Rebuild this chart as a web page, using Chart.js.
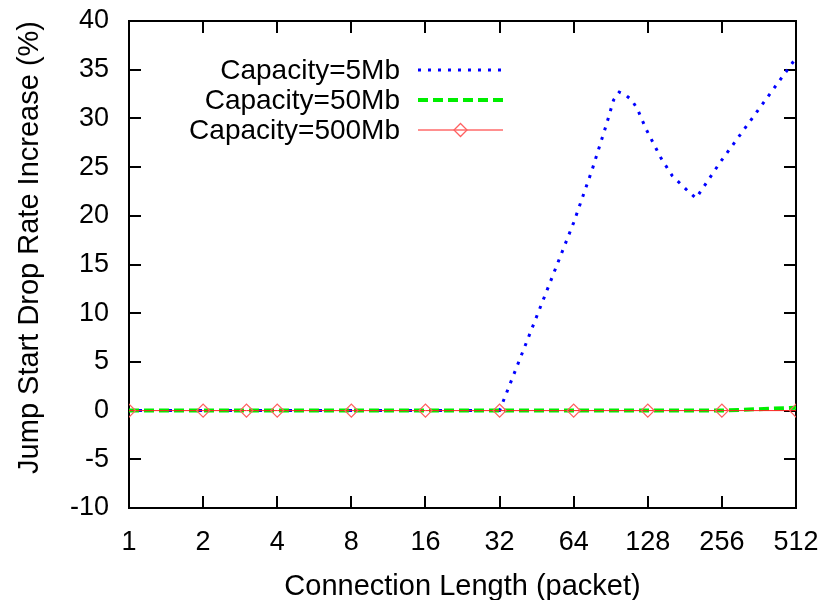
<!DOCTYPE html>
<html>
<head>
<meta charset="utf-8">
<script src="https://cdn.jsdelivr.net/npm/chart.js@4.4.0/dist/chart.umd.min.js"></script>
<style>
  html, body { margin: 0; padding: 0; background: #fff; }
  #wrap { width: 830px; height: 600px; position: relative; }
</style>
</head>
<body>
<div id="wrap"><canvas id="chart"></canvas></div>
<script>
// --- data ---
const xTicks = [1, 2, 4, 8, 16, 32, 64, 128, 256, 512];
const yTicks = [-10, -5, 0, 5, 10, 15, 20, 25, 30, 35, 40];

const lengths = [1, 2, 3, 4, 8, 16, 32, 64, 128, 256, 512];
const cap500 = [0, 0, 0, 0, 0, 0, 0, 0, 0, 0, 0];
const cap50 = [0, 0, 0, 0, 0, 0, 0, 0, 0, 0, 0.3];

const cap5Lengths = [1, 2, 3, 4, 8, 16, 32, 64, 76, 87, 93, 98, 104, 110, 116, 126, 145, 161, 187, 201, 252, 512];
const cap5 = [0, 0, 0, 0, 0, 0, 0, 19.3, 24.7, 29.4, 31.9, 32.7, 32.4, 31.9, 31.0, 28.9, 25.9, 24.1, 22.5, 21.8, 25.5, 36.2];

const seriesNames = ['Capacity=5Mb', 'Capacity=50Mb', 'Capacity=500Mb'];

const FONT = 'Liberation Sans, Arial, Helvetica, sans-serif';

const toPoints = (xs, ys) => xs.map((x, i) => ({ x, y: ys[i] }));

// gnuplot style frame with inward ticks on all four sides
const framePlugin = {
  id: 'frame',
  beforeDatasetsDraw(chart) {
    const { ctx, chartArea: a, scales } = chart;
    const len = 12;
    ctx.save();
    ctx.strokeStyle = '#000';
    ctx.lineWidth = 2;
    ctx.beginPath();
    for (const v of xTicks) {
      const px = Math.round(scales.x.getPixelForValue(v));
      ctx.moveTo(px, a.bottom); ctx.lineTo(px, a.bottom - len);
      ctx.moveTo(px, a.top); ctx.lineTo(px, a.top + len);
    }
    for (const v of yTicks) {
      const py = Math.round(scales.y.getPixelForValue(v));
      ctx.moveTo(a.left, py); ctx.lineTo(a.left + len, py);
      ctx.moveTo(a.right, py); ctx.lineTo(a.right - len, py);
    }
    ctx.stroke();
    ctx.strokeRect(a.left, a.top, a.right - a.left, a.bottom - a.top);
    ctx.restore();
  }
};

// legend inside the plot: text right aligned, sample line to the right
const legendPlugin = {
  id: 'insideLegend',
  afterDatasetsDraw(chart) {
    const { ctx } = chart;
    const textRight = 400, lineL = 418, lineR = 503, y0 = 70, step = 30;
    ctx.save();
    ctx.font = '28px ' + FONT;
    ctx.textAlign = 'right';
    ctx.textBaseline = 'middle';
    chart.data.datasets.forEach((ds, i) => {
      const y = y0 + i * step;
      ctx.fillStyle = '#000';
      ctx.fillText(ds.label, textRight, y + 1);
      ctx.strokeStyle = ds.borderColor;
      ctx.lineWidth = ds.borderWidth;
      ctx.setLineDash(ds.borderDash || []);
      ctx.beginPath();
      ctx.moveTo(lineL, y); ctx.lineTo(lineR, y);
      ctx.stroke();
      ctx.setLineDash([]);
      if (ds.pointRadius > 0) {
        const cx = (lineL + lineR) / 2, r = ds.pointRadius;
        ctx.strokeStyle = ds.pointBorderColor;
        ctx.lineWidth = ds.pointBorderWidth;
        ctx.beginPath();
        ctx.moveTo(cx, y - r); ctx.lineTo(cx + r, y); ctx.lineTo(cx, y + r); ctx.lineTo(cx - r, y);
        ctx.closePath();
        ctx.stroke();
      }
    });
    ctx.restore();
  }
};

new Chart(document.getElementById('chart'), {
  type: 'line',
  data: {
    datasets: [
      {
        label: seriesNames[0],
        data: toPoints(cap5Lengths, cap5),
        borderColor: '#0000ff',
        borderWidth: 3,
        borderDash: [3, 7],
        pointRadius: 0,
        tension: 0,
        order: 3
      },
      {
        label: seriesNames[1],
        data: toPoints(lengths, cap50),
        borderColor: '#00ee00',
        borderWidth: 4,
        borderDash: [10, 5],
        pointRadius: 0,
        tension: 0,
        order: 2
      },
      {
        label: seriesNames[2],
        data: toPoints(lengths, cap500),
        borderColor: '#ff2020',
        borderWidth: 1,
        pointStyle: 'rectRot',
        pointRadius: 6.5,
        pointBorderColor: '#ff6060',
        pointBackgroundColor: 'rgba(0,0,0,0)',
        pointBorderWidth: 1.3,
        tension: 0,
        order: 1
      }
    ]
  },
  options: {
    responsive: true,
    maintainAspectRatio: false,
    animation: false,
    layout: { padding: { top: 21, right: 34, left: 0, bottom: 0 } },
    scales: {
      x: {
        type: 'logarithmic',
        min: 1,
        max: 512,
        afterBuildTicks: s => { s.ticks = xTicks.map(v => ({ value: v })); },
        afterFit: s => { s.height = 92; s.paddingLeft = 0; s.paddingRight = 0; },
        grid: { display: false, drawTicks: false },
        border: { display: false },
        ticks: {
          color: '#000',
          padding: 18,
          maxRotation: 0,
          autoSkip: false,
          font: { family: FONT, size: 27 },
          callback: v => String(v)
        },
        title: {
          display: true,
          text: 'Connection Length (packet)',
          color: '#000',
          font: { family: FONT, size: 29 },
          padding: { top: 0, bottom: -4 }
        }
      },
      y: {
        min: -10,
        max: 40,
        afterBuildTicks: s => { s.ticks = yTicks.map(v => ({ value: v })); },
        afterFit: s => { s.width = 129; s.paddingTop = 0; s.paddingBottom = 0; },
        grid: { display: false, drawTicks: false },
        border: { display: false },
        ticks: {
          color: '#000',
          padding: 20,
          font: { family: FONT, size: 27 }
        },
        title: {
          display: true,
          text: 'Jump Start Drop Rate Increase (%)',
          color: '#000',
          align: 'end',
          font: { family: FONT, size: 29 },
          padding: { top: 13, bottom: 0 }
        }
      }
    },
    plugins: {
      legend: { display: false },
      tooltip: { enabled: false }
    }
  },
  plugins: [framePlugin, legendPlugin]
});
</script>
</body>
</html>
